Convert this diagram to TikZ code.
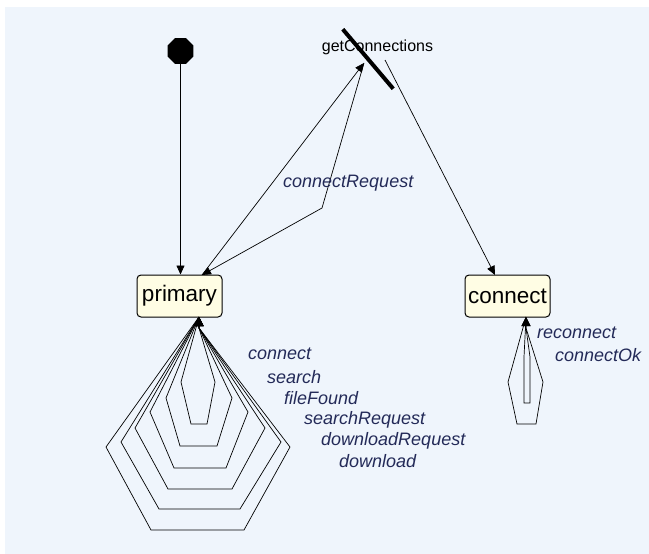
\documentclass[tikz,border=0pt]{standalone}
\usepackage{fontspec}
\setmainfont{Liberation Sans}
\usetikzlibrary{arrows.meta,shapes.geometric}
\definecolor{bgc}{RGB}{239,245,252}
\definecolor{statefill}{RGB}{255,253,228}
\definecolor{lblc}{RGB}{35,42,88}
\begin{document}
\begin{tikzpicture}[x=1pt,y=-1pt,
  tr/.style={draw=black, line width=0.7pt, -{Triangle[length=9pt,width=8pt]}},
  loopline/.style={draw=black, line width=0.7pt, line join=miter, -{Triangle[length=9pt,width=9pt]}},
  statebox/.style={draw=black, line width=1pt, rounded corners=4pt, fill=statefill,
    minimum width=85pt, minimum height=42pt, inner sep=0pt,
    font=\fontsize{22.5}{24}\selectfont},
  lbl/.style={text=lblc, font=\fontsize{18}{20}\selectfont\itshape, inner sep=0pt, anchor=west},
  forkname/.style={text=black, font=\fontsize{16}{18}\selectfont, inner sep=0pt},
  initstate/.style={regular polygon, regular polygon sides=8, fill=black, minimum size=28pt, inner sep=0pt},
  forkbar/.style={fill=black, minimum width=78pt, minimum height=4pt, inner sep=0pt, rotate=-49.7}
]
\useasboundingbox (0,0) rectangle (649,554);
\fill[white] (0,0) rectangle (649,554);
\fill[bgc] (5,7) rectangle (649,554);

% states
\node[initstate] (init) at (180.5,51) {};
\node[statebox] (primary) at (179.5,296) {primary};
\node[statebox] (connect) at (507.5,296) {connect};

% fork
\node[forkname] (fname) at (377.5,47) {getConnections};
\node[forkbar] (fork) at (368,59) {};
\coordinate (fin) at (364,63);
\coordinate (fout) at (385,60);

% connection points
\coordinate (pin) at (202,275);
\coordinate (cin) at (495,275);
\coordinate (ploop) at (199,317);
\coordinate (cloop) at (526,317);

% transitions
\draw[tr] (init) -- (init |- primary.north);
\draw[tr] (pin) -- (fin);
\draw[tr] (fin) -- (322,208) -- (pin);
\draw[tr] (fout) -- (cin);
\node[lbl] (lcr) at (283,183) {connectRequest};

% primary self loops
\draw[loopline] (ploop) -- (181,382) -- (191,424) -- (207,424) -- (215,382) -- (199,328) -- (ploop);
\draw[loopline] (ploop) -- (166,398) -- (180,446) -- (217,446) -- (232,398) -- (199,328) -- (ploop);
\draw[loopline] (ploop) -- (150,412) -- (174,468) -- (226,468) -- (248,412) -- (199,328) -- (ploop);
\draw[loopline] (ploop) -- (135,428) -- (168,489) -- (232,489) -- (265,428) -- (199,328) -- (ploop);
\draw[loopline] (ploop) -- (121,442) -- (159,509) -- (240,509) -- (281,442) -- (199,328) -- (ploop);
\draw[loopline] (ploop) -- (106,447) -- (151,530) -- (244,530) -- (290,447) -- (199,328) -- (ploop);

\node[lbl] (l1) at (248,354) {connect};
\node[lbl] (l2) at (267,377) {search};
\node[lbl] (l3) at (284,398) {fileFound};
\node[lbl] (l4) at (304,420) {searchRequest};
\node[lbl] (l5) at (321,441) {downloadRequest};
\node[lbl] (l6) at (339,461) {download};

% connect self loops
\draw[loopline] (cloop) -- (524,357) -- (524,403) -- (530,403) -- (530,357) -- (526,328) -- (cloop);
\draw[loopline] (cloop) -- (508,382) -- (517,424) -- (536,424) -- (543,382) -- (526,328) -- (cloop);
\node[lbl] (l7) at (537,333) {reconnect};
\node[lbl] (l8) at (555,355) {connectOk};
\end{tikzpicture}
\end{document}
